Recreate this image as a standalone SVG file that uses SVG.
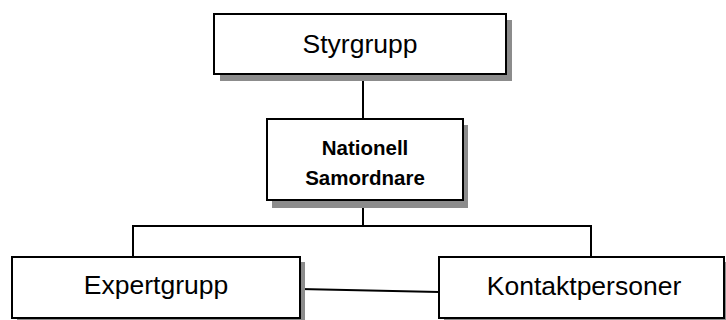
<svg xmlns="http://www.w3.org/2000/svg" width="726" height="320" viewBox="0 0 726 320">
  <style>
    .shadow { fill: #8c8c8c; }
    .box { fill: #ffffff; stroke: #000000; stroke-width: 2; }
    .conn { fill: none; stroke: #000000; stroke-width: 2; }
    .lbl { font-family: "Liberation Sans", Arial, sans-serif; font-size: 26.5px; fill: #000000; text-anchor: middle; }
    .lblb { font-family: "Liberation Sans", Arial, sans-serif; font-size: 20.5px; font-weight: bold; fill: #000000; text-anchor: middle; }
  </style>
  <rect width="726" height="320" fill="#ffffff"/>
  <g id="connectors">
    <line class="conn" x1="363" y1="74" x2="363" y2="119"/>
    <line class="conn" x1="363" y1="200" x2="363" y2="226"/>
    <polyline class="conn" points="133,257 133,226 591,226 591,257"/>
    <line class="conn" x1="300" y1="289" x2="439" y2="292"/>
  </g>
  <g id="styrgrupp">
    <rect class="shadow" x="220" y="20" width="292" height="61"/>
    <rect class="box" x="214" y="14" width="292" height="60"/>
    <text class="lbl" x="360" y="53">Styrgrupp</text>
  </g>
  <g id="nationell-samordnare">
    <rect class="shadow" x="272" y="125" width="196" height="83"/>
    <rect class="box" x="267" y="119" width="196" height="81"/>
    <text class="lblb" x="365" y="155">Nationell</text>
    <text class="lblb" x="365" y="185">Samordnare</text>
  </g>
  <g id="expertgrupp">
    <rect class="shadow" x="17" y="262" width="288" height="61"/>
    <rect class="box" x="12" y="257" width="288" height="61"/>
    <text class="lbl" x="156" y="294">Expertgrupp</text>
  </g>
  <g id="kontaktpersoner">
    <rect class="shadow" x="444" y="262" width="290" height="61"/>
    <rect class="box" x="439" y="257" width="285" height="61"/>
    <text class="lbl" x="584" y="295">Kontaktpersoner</text>
  </g>
</svg>
